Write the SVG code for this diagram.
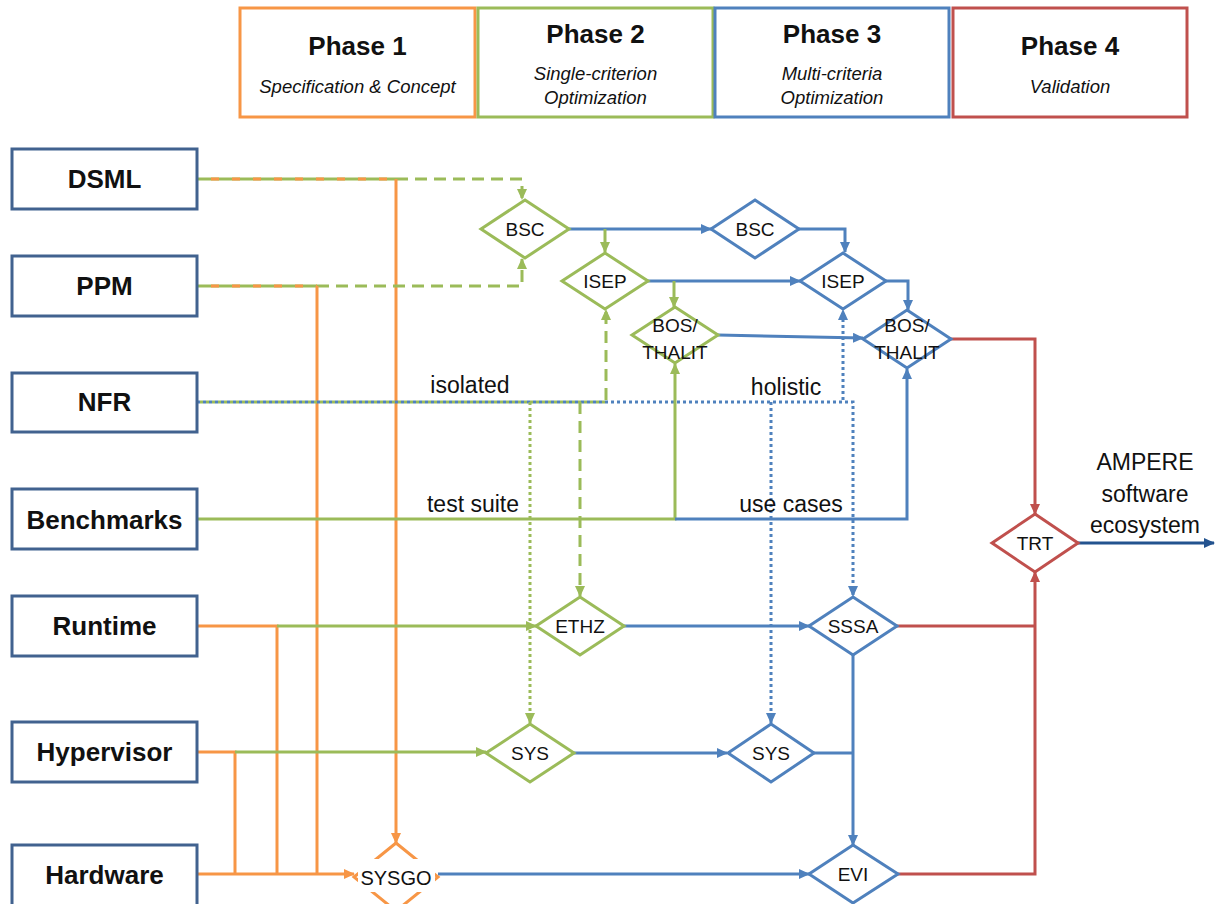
<svg xmlns="http://www.w3.org/2000/svg" width="1216" height="904" viewBox="0 0 1216 904">
<style>
text{font-family:"Liberation Sans",Arial,sans-serif;fill:#111}
.box{fill:#fff;stroke:#41628f;stroke-width:3}
.bl{font-weight:bold;font-size:26px;text-anchor:middle}
.ph{fill:#fff;stroke-width:3}
.pt{font-weight:bold;font-size:26px;text-anchor:middle}
.ps{font-style:italic;font-size:18.5px;text-anchor:middle}
.dm{fill:#fff;stroke-width:3;stroke-linejoin:miter}
.dt{font-size:19px;text-anchor:middle}
.lb{font-size:23px;text-anchor:middle}
.c{fill:none;stroke-width:3}
.g{stroke:#9bbb59}.o{stroke:#f79646}.b{stroke:#4f81bd}.r{stroke:#c0504d}.n{stroke:#23538f}
.dash{stroke-dasharray:12 7}
.dot{stroke-dasharray:3 3}
</style>
<defs>
<marker id="ag" markerUnits="userSpaceOnUse" markerWidth="11" markerHeight="10" refX="10" refY="5" orient="auto"><path d="M0,0 L11,5 L0,10 z" fill="#9bbb59"/></marker>
<marker id="ao" markerUnits="userSpaceOnUse" markerWidth="11" markerHeight="10" refX="10" refY="5" orient="auto"><path d="M0,0 L11,5 L0,10 z" fill="#f79646"/></marker>
<marker id="ab" markerUnits="userSpaceOnUse" markerWidth="11" markerHeight="10" refX="10" refY="5" orient="auto"><path d="M0,0 L11,5 L0,10 z" fill="#4f81bd"/></marker>
<marker id="ar" markerUnits="userSpaceOnUse" markerWidth="11" markerHeight="10" refX="10" refY="5" orient="auto"><path d="M0,0 L11,5 L0,10 z" fill="#c0504d"/></marker>
<marker id="an" markerUnits="userSpaceOnUse" markerWidth="11" markerHeight="10" refX="10" refY="5" orient="auto"><path d="M0,0 L11,5 L0,10 z" fill="#23538f"/></marker>
</defs>
<rect width="1216" height="904" fill="#fff"/>

<g id="phase1"><rect class="ph" x="240" y="8" width="235" height="109" stroke="#f79646"/><text class="pt" x="357.5" y="55">Phase 1</text><text class="ps" x="357.5" y="93">Specification &amp; Concept</text></g>
<g id="phase2"><rect class="ph" x="478" y="8" width="235" height="109" stroke="#9bbb59"/><text class="pt" x="595.5" y="43">Phase 2</text><text class="ps" x="595.5" y="80">Single-criterion</text><text class="ps" x="595.5" y="104">Optimization</text></g>
<g id="phase3"><rect class="ph" x="715" y="8" width="234" height="109" stroke="#4f81bd"/><text class="pt" x="832" y="43">Phase 3</text><text class="ps" x="832" y="80">Multi-criteria</text><text class="ps" x="832" y="104">Optimization</text></g>
<g id="phase4"><rect class="ph" x="953" y="8" width="234" height="109" stroke="#c0504d"/><text class="pt" x="1070" y="55">Phase 4</text><text class="ps" x="1070" y="93">Validation</text></g>

<g id="connectors">
<path class="c g" d="M197,179 H396"/>
<path class="c o" d="M197,179 H396" stroke-dasharray="8 13" stroke-dashoffset="-14"/>
<path class="c g dash" d="M396,179 H522 V199" marker-end="url(#ag)"/>
<path class="c o" d="M396,179 V843" marker-end="url(#ao)"/>
<path class="c g" d="M197,286 H317"/>
<path class="c o" d="M197,286 H317" stroke-dasharray="8 13" stroke-dashoffset="-14"/>
<path class="c g dash" d="M317,286 H522 V259" marker-end="url(#ag)"/>
<path class="c o" d="M317,286 V874"/>
<path class="c b dot" d="M197,402 H853 V596" marker-end="url(#ab)"/>
<path class="c g dot" d="M197,402 H606" stroke-dashoffset="3"/>
<path class="c g dot" d="M530,402 V723" marker-end="url(#ag)"/>
<path class="c g dash" d="M580,402 V596" marker-end="url(#ag)"/>
<path class="c g dash" d="M606,400 V310" marker-end="url(#ag)"/>
<path class="c b dot" d="M771,402 V723" marker-end="url(#ab)"/>
<path class="c b dot" d="M843,400 V310" marker-end="url(#ab)"/>
<path class="c g" d="M197,519 H675 V364" marker-end="url(#ag)"/>
<path class="c b" d="M675,519 H907 V369" marker-end="url(#ab)"/>
<path class="c o" d="M197,626 H277 V874"/>
<path class="c g" d="M277,626 H536" marker-end="url(#ag)"/>
<path class="c o" d="M197,752 H235 V874"/>
<path class="c g" d="M235,752 H486" marker-end="url(#ag)"/>
<path class="c o" d="M197,874 H354" marker-end="url(#ao)"/>
<path class="c b" d="M438,874 H809" marker-end="url(#ab)"/>
<path class="c b" d="M569,229 H711" marker-end="url(#ab)"/>
<path class="c g" d="M605,229 V252" marker-end="url(#ag)"/>
<path class="c b" d="M799,229 H845 V252" marker-end="url(#ab)"/>
<path class="c b" d="M648,281 H800" marker-end="url(#ab)"/>
<path class="c g" d="M674,281 V307" marker-end="url(#ag)"/>
<path class="c b" d="M886,281 H908 V310" marker-end="url(#ab)"/>
<path class="c b" d="M718,335 L863,338" marker-end="url(#ab)"/>
<path class="c r" d="M951,339 H1035 V514" marker-end="url(#ar)"/>
<path class="c n" d="M1078,543 H1214" marker-end="url(#an)"/>
<path class="c b" d="M624,626 H809" marker-end="url(#ab)"/>
<path class="c r" d="M897,626 H1035"/>
<path class="c r" d="M898,874 H1035 V572" marker-end="url(#ar)"/>
<path class="c b" d="M853,654 V845" marker-end="url(#ab)"/>
<path class="c b" d="M574,753 H727" marker-end="url(#ab)"/>
<path class="c b" d="M814,753 H853"/>
</g>

<g id="labels">
<text class="lb" x="470" y="393">isolated</text>
<text class="lb" x="786" y="395">holistic</text>
<text class="lb" x="473" y="512">test suite</text>
<text class="lb" x="791" y="512">use cases</text>
<text class="lb" x="1145" y="470">AMPERE</text>
<text class="lb" x="1145" y="502">software</text>
<text class="lb" x="1145" y="533">ecosystem</text>
</g>

<g id="dsml"><rect class="box" x="12" y="149" width="185" height="60"/><text class="bl" x="104.5" y="188">DSML</text></g>
<g id="ppm"><rect class="box" x="12" y="256" width="185" height="60"/><text class="bl" x="104.5" y="295">PPM</text></g>
<g id="nfr"><rect class="box" x="12" y="373" width="185" height="59"/><text class="bl" x="104.5" y="411">NFR</text></g>
<g id="benchmarks"><rect class="box" x="12" y="489" width="185" height="60"/><text class="bl" x="104.5" y="529">Benchmarks</text></g>
<g id="runtime"><rect class="box" x="12" y="596" width="185" height="60"/><text class="bl" x="104.5" y="635">Runtime</text></g>
<g id="hypervisor"><rect class="box" x="12" y="722" width="185" height="60"/><text class="bl" x="104.5" y="761">Hypervisor</text></g>
<g id="hardware"><rect class="box" x="12" y="845" width="185" height="62"/><text class="bl" x="104.5" y="884">Hardware</text></g>

<g id="bsc-p2"><polygon class="dm" stroke="#9bbb59" points="525,200 569,229 525,258 481,229"/><text class="dt" x="525" y="236">BSC</text></g>
<g id="isep-p2"><polygon class="dm" stroke="#9bbb59" points="605,253 648,281 605,309 562,281"/><text class="dt" x="605" y="288">ISEP</text></g>
<g id="bos-p2"><polygon class="dm" stroke="#9bbb59" points="675,307 718,335 675,363 632,335"/><text class="dt" x="675" y="332">BOS/</text><text class="dt" x="675" y="359">THALIT</text></g>
<g id="bsc-p3"><polygon class="dm" stroke="#4f81bd" points="755,200 799,229 755,258 711,229"/><text class="dt" x="755" y="236">BSC</text></g>
<g id="isep-p3"><polygon class="dm" stroke="#4f81bd" points="843,253 886,281 843,309 800,281"/><text class="dt" x="843" y="288">ISEP</text></g>
<g id="bos-p3"><polygon class="dm" stroke="#4f81bd" points="907,310 951,339 907,368 863,339"/><text class="dt" x="907" y="332">BOS/</text><text class="dt" x="907" y="359">THALIT</text></g>
<g id="ethz"><polygon class="dm" stroke="#9bbb59" points="580,597 624,626 580,655 536,626"/><text class="dt" x="580" y="633">ETHZ</text></g>
<g id="sys-p2"><polygon class="dm" stroke="#9bbb59" points="530,724 574,753 530,782 486,753"/><text class="dt" x="530" y="760">SYS</text></g>
<g id="sys-p3"><polygon class="dm" stroke="#4f81bd" points="771,724 814,753 771,782 728,753"/><text class="dt" x="771" y="760">SYS</text></g>
<g id="sssa"><polygon class="dm" stroke="#4f81bd" points="853,597 897,626 853,655 809,626"/><text class="dt" x="853" y="633">SSSA</text></g>
<g id="evi"><polygon class="dm" stroke="#4f81bd" points="853,845 898,874 853,903 809,874"/><text class="dt" x="853" y="881">EVI</text></g>
<g id="trt"><polygon class="dm" stroke="#c0504d" points="1035,514 1078,543 1035,572 992,543"/><text class="dt" x="1035" y="550">TRT</text></g>
<g id="sysgo"><polygon class="dm" stroke="#f79646" points="396,843 438,877 396,911 354,877"/><rect x="358" y="859" width="77" height="33" fill="#fff"/><text class="dt" x="396" y="885" style="font-size:20px">SYSGO</text></g>
</svg>
